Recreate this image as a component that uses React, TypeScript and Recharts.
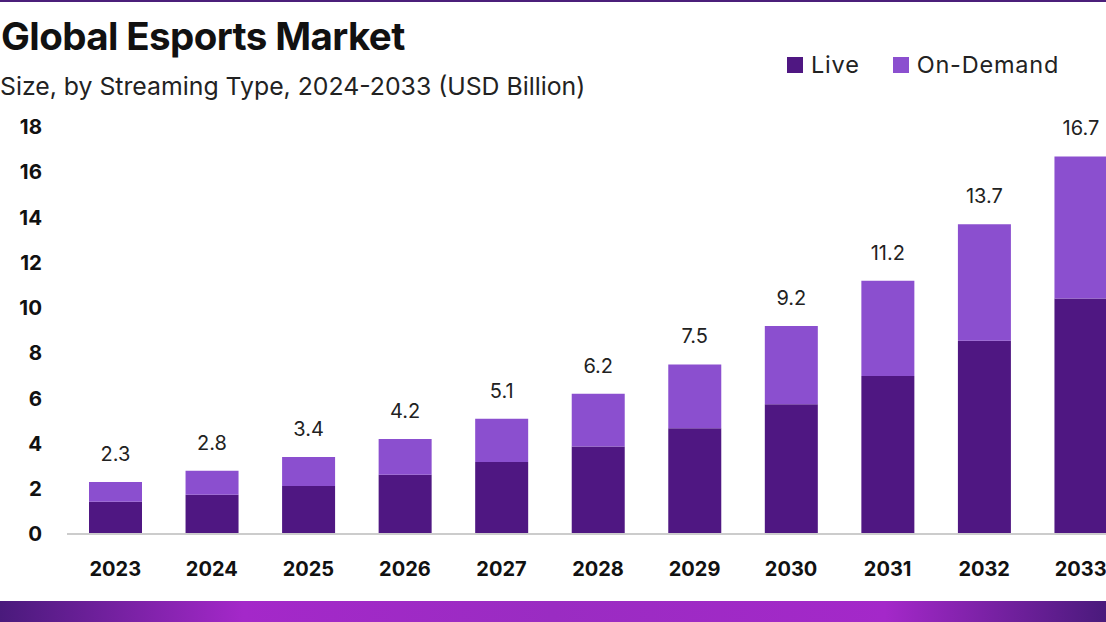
import React from 'react';
import { BarChart, Bar, XAxis, YAxis, LabelList } from 'recharts';

const years = ['2023', '2024', '2025', '2026', '2027', '2028', '2029', '2030', '2031', '2032', '2033'];
const liveValues = [1.43, 1.74, 2.12, 2.62, 3.18, 3.87, 4.68, 5.74, 6.99, 8.55, 10.42];
const onDemandValues = [0.87, 1.06, 1.28, 1.58, 1.92, 2.33, 2.82, 3.46, 4.21, 5.15, 6.28];
const totalLabels = ['2.3', '2.8', '3.4', '4.2', '5.1', '6.2', '7.5', '9.2', '11.2', '13.7', '16.7'];
const yTicks = [0, 2, 4, 6, 8, 10, 12, 14, 16, 18];
const seriesNames = ['Live', 'On-Demand'];

const chartData = years.map((year, i) => ({
  year,
  live: liveValues[i],
  onDemand: onDemandValues[i],
  total: totalLabels[i],
}));

const LIVE = '#4f1782';
const ON_DEMAND = '#8b4fcf';
const FONT = 'Inter, "Noto Sans", sans-serif';
const legendColors = [LIVE, ON_DEMAND];

export default function App() {
  return (
    <div style={{ position: 'fixed', left: 0, top: 0, width: 1106, height: 622, overflow: 'hidden', background: '#fff' }}>
      <div style={{ position: 'absolute', left: 0, top: 0, width: 1106, height: 2, background: '#4b1f7a' }} />
      <div style={{ position: 'absolute', left: 1, top: 13, fontFamily: FONT, fontWeight: 700, fontSize: 38.5, letterSpacing: -0.6, color: '#111', whiteSpace: 'nowrap', lineHeight: '46px' }}>
        Global Esports Market
      </div>
      <div style={{ position: 'absolute', left: 0, top: 70, fontFamily: FONT, fontSize: 24.8, color: '#222', whiteSpace: 'nowrap', lineHeight: '32px' }}>
        Size, by Streaming Type, 2024-2033 (USD Billion)
      </div>
      {/* legend */}
      <div style={{ position: 'absolute', left: 787, top: 50, display: 'flex', alignItems: 'center', fontFamily: FONT, fontSize: 23.5, letterSpacing: 0.8, color: '#222', lineHeight: '30px' }}>
        {seriesNames.map((name, i) => (
          <div key={name} style={{ display: 'flex', alignItems: 'center', marginRight: i === 0 ? 33 : 0 }}>
            <span style={{ width: 16, height: 16, background: legendColors[i], display: 'inline-block', marginRight: 8 }} />
            <span>{name}</span>
          </div>
        ))}
      </div>
      <div style={{ position: 'absolute', left: 0, top: 0 }}>
        <BarChart width={1140} height={622} data={chartData} margin={{ top: 127, right: 11, bottom: 0, left: 0 }}>
          <XAxis
            dataKey="year"
            height={88}
            tickLine={false}
            tickSize={0}
            tickMargin={28}
            axisLine={{ stroke: '#cccccc', strokeWidth: 2 }}
            tick={{ fontFamily: FONT, fontSize: 20, fontWeight: 700, fill: '#111' }}
          />
          <YAxis
            width={67}
            domain={[0, 18]}
            ticks={yTicks}
            interval={0}
            axisLine={false}
            tickLine={false}
            tickSize={0}
            tickMargin={25}
            tick={{ fontFamily: FONT, fontSize: 20.5, fontWeight: 700, fill: '#111' }}
          />
          <Bar dataKey="live" name="Live" stackId="a" fill={LIVE} barSize={53} isAnimationActive={false} />
          <Bar dataKey="onDemand" name="On-Demand" stackId="a" fill={ON_DEMAND} barSize={53} isAnimationActive={false}>
            <LabelList dataKey="total" position="top" offset={21} style={{ fontFamily: FONT, fontSize: 20, fill: '#222' }} />
          </Bar>
        </BarChart>
      </div>
      <div
        style={{
          position: 'absolute',
          left: 0,
          top: 601,
          width: 1106,
          height: 21,
          background: 'linear-gradient(90deg, #4a1a7c 0%, #a428c9 22%, #9a2cc2 50%, #a428c9 80%, #4a1a7c 100%)',
        }}
      />
    </div>
  );
}
